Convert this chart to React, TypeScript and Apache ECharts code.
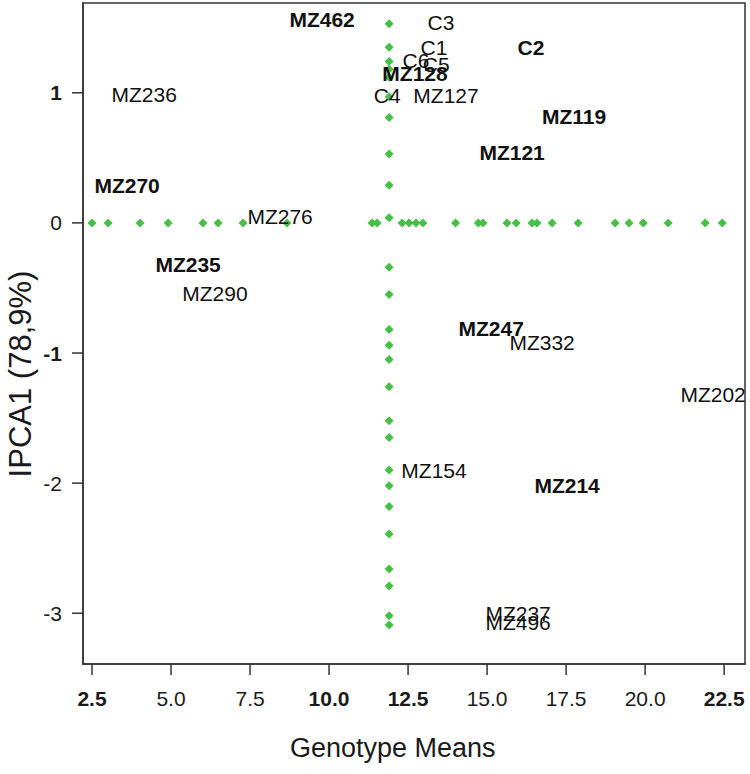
import React, { useEffect, useRef } from "react";
import * as echarts from "echarts";

// ---- data ----
const xTicks = [2.5, 5.0, 7.5, 10.0, 12.5, 15.0, 17.5, 20.0, 22.5];
const yTicks = [-3, -2, -1, 0, 1];
const X_MIN = 2.215;
const X_MAX = 23.16;
const Y_MIN = -3.39;
const Y_MAX = 1.69;

// projections of every entry onto the IPCA1 = 0 line (genotype/environment means)
const rowMeans = [
  2.5, 3.01, 4.02, 4.91, 6.01, 6.49, 7.28, 8.67, 11.36, 11.52, 12.31, 12.53, 12.75,
  12.97, 14.0, 14.72, 14.87, 15.63, 15.92, 16.42, 16.58, 17.06, 17.88, 19.05, 19.49,
  19.94, 20.73, 21.9, 22.44,
];
// projections onto the grand-mean line (IPCA1 scores)
const grandMean = 11.9;
const colScores = [
  1.53, 1.35, 1.24, 1.18, 1.12, 0.97, 0.81, 0.53, 0.29, 0.04, -0.34, -0.55, -0.82,
  -0.94, -1.05, -1.26, -1.52, -1.65, -1.9, -2.02, -2.18, -2.39, -2.66, -2.79, -3.02,
  -3.09,
];

// labelled genotypes and environments
const labelNames = [
  "MZ462", "C3", "C1", "C2", "C6", "C5", "MZ128", "C4", "MZ127", "MZ236", "MZ119",
  "MZ121", "MZ270", "MZ276", "MZ235", "MZ290", "MZ247", "MZ332", "MZ202", "MZ154",
  "MZ214", "MZ237", "MZ496",
];
const labelMeans = [
  9.78, 13.54, 13.32, 16.39, 12.75, 13.39, 12.72, 11.84, 13.7, 4.15, 17.75, 15.79,
  3.61, 8.45, 5.54, 6.39, 15.13, 16.74, 22.15, 13.32, 17.53, 15.98, 15.98,
];
const labelScores = [
  1.56, 1.54, 1.35, 1.35, 1.25, 1.22, 1.15, 0.98, 0.98, 0.99, 0.82, 0.54, 0.29, 0.05,
  -0.32, -0.54, -0.81, -0.92, -1.32, -1.9, -2.02, -3.0, -3.07,
];

// ---- styling ----
const BOLD_LABELS = new Set(["MZ462", "MZ270", "MZ235", "MZ128", "MZ119", "MZ121", "MZ247", "MZ214", "C2"]);
const BOLD_X = new Set(["2.5", "10.0", "12.5", "22.5"]);
const BOLD_Y = new Set(["1", "-1"]);
const FONT = "'Liberation Sans', Arial, Helvetica, sans-serif";
const GREEN = "#46bf46";
const INK = "#333333";
const TICK_LEN = 11;

export default function App() {
  const ref = useRef<HTMLDivElement>(null);

  useEffect(() => {
    if (!ref.current) return;
    const chart = echarts.init(ref.current, null, { renderer: "svg" });

    const tickLabelRich = {
      n: { fontFamily: FONT, fontSize: 21, color: "#1a1a1a", fontWeight: "normal" },
      b: { fontFamily: FONT, fontSize: 21, color: "#1a1a1a", fontWeight: "bold" },
    };

    const titles = [
      {
        type: "text",
        left: 290,
        top: 734,
        style: { text: "Genotype Means", font: `27px ${FONT}`, fill: "#1a1a1a" },
      },
      {
        type: "text",
        x: 20,
        y: 374,
        rotation: Math.PI / 2,
        style: {
          text: "IPCA1 (78,9%)",
          font: `31px ${FONT}`,
          fill: "#1a1a1a",
          align: "center",
          verticalAlign: "middle",
        },
      },
    ];

    chart.setOption({
      animation: false,
      grid: {
        left: 83,
        right: 5,
        top: 3,
        bottom: 110,
        show: true,
        borderColor: INK,
        borderWidth: 1.5,
      },
      xAxis: {
        type: "value",
        min: X_MIN,
        max: X_MAX,
        splitLine: { show: false },
        axisLine: { show: true, onZero: false, lineStyle: { color: INK, width: 1.5 } },
        axisTick: { show: false },
        axisLabel: {
          customValues: xTicks,
          margin: 24,
          formatter: (v: number) => {
            const s = v.toFixed(1);
            return BOLD_X.has(s) ? `{b|${s}}` : `{n|${s}}`;
          },
          rich: tickLabelRich,
        },
      },
      yAxis: {
        type: "value",
        min: Y_MIN,
        max: Y_MAX,
        splitLine: { show: false },
        axisLine: { show: true, onZero: false, lineStyle: { color: INK, width: 1.5 } },
        axisTick: { show: false },
        axisLabel: {
          customValues: yTicks,
          margin: 21,
          formatter: (v: number) => {
            const s = String(Math.round(v));
            return BOLD_Y.has(s) ? `{b|${s}}` : `{n|${s}}`;
          },
          rich: tickLabelRich,
        },
      },
      graphic: titles,
      series: [
        {
          type: "scatter",
          symbol: "diamond",
          symbolSize: 9,
          itemStyle: { color: GREEN, opacity: 1 },
          data: rowMeans.map((x) => [x, 0]),
          z: 2,
        },
        {
          type: "scatter",
          symbol: "diamond",
          symbolSize: 9,
          itemStyle: { color: GREEN, opacity: 1 },
          data: colScores.map((y) => [grandMean, y]),
          z: 2,
        },
        {
          type: "scatter",
          symbolSize: 1,
          itemStyle: { color: "rgba(0,0,0,0)", opacity: 1 },
          z: 5,
          data: labelNames.map((name, i) => ({
            name,
            value: [labelMeans[i], labelScores[i]],
            label: {
              show: true,
              position: "inside",
              formatter: name,
              fontFamily: FONT,
              fontSize: 21,
              color: "#111111",
              fontWeight: BOLD_LABELS.has(name) ? "bold" : "normal",
            },
          })),
        },
      ],
    });

    // tick marks placed through the chart's own coordinate conversion
    const tickMarks: any[] = [];
    xTicks.forEach((v) => {
      const p = chart.convertToPixel({ gridIndex: 0 }, [v, Y_MIN]) as number[];
      tickMarks.push({
        type: "line",
        z: 100,
        silent: true,
        shape: { x1: p[0], y1: p[1], x2: p[0], y2: p[1] + TICK_LEN },
        style: { stroke: INK, lineWidth: 1.5 },
      });
    });
    yTicks.forEach((v) => {
      const p = chart.convertToPixel({ gridIndex: 0 }, [X_MIN, v]) as number[];
      tickMarks.push({
        type: "line",
        z: 100,
        silent: true,
        shape: { x1: p[0], y1: p[1], x2: p[0] - TICK_LEN, y2: p[1] },
        style: { stroke: INK, lineWidth: 1.5 },
      });
    });
    chart.setOption({ graphic: [...titles, ...tickMarks] }, { replaceMerge: ["graphic"] });

    return () => chart.dispose();
  }, []);

  return (
    <div
      ref={ref}
      style={{ position: "absolute", left: 0, top: 0, width: 750, height: 774 }}
    />
  );
}
